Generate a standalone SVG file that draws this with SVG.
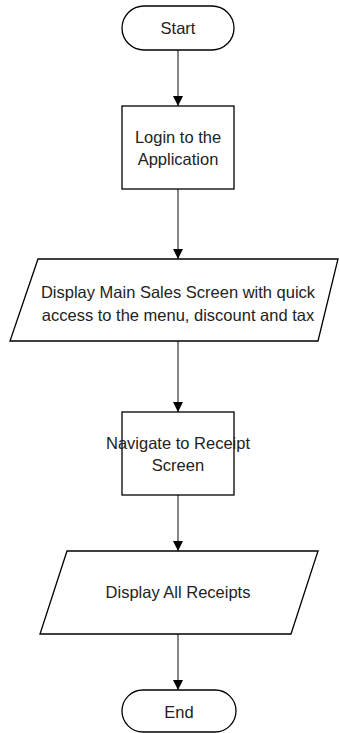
<svg xmlns="http://www.w3.org/2000/svg" width="339" height="733" viewBox="0 0 339 733">
<defs>
<style>
.s{fill:#fff;stroke:#000;stroke-width:1.3}
.t{font-family:"Liberation Sans",Arial,sans-serif;font-size:16.5px;fill:#222;text-anchor:middle}
.c{stroke:#333;stroke-width:1.2;fill:none;marker-end:url(#a)}
</style>
<marker id="a" viewBox="0 0 10 10" refX="10" refY="5" markerWidth="10" markerHeight="10" markerUnits="userSpaceOnUse" orient="auto">
<path d="M0,0 L10,5 L0,10 Z" fill="#000"/>
</marker>
</defs>
<rect width="339" height="733" fill="#fff"/>
<g id="connectors">
<line class="c" x1="178" y1="50" x2="178" y2="106"/>
<line class="c" x1="178" y1="189" x2="178" y2="259"/>
<line class="c" x1="178" y1="341" x2="178" y2="412"/>
<line class="c" x1="178" y1="495" x2="178" y2="551"/>
<line class="c" x1="178" y1="634" x2="178" y2="690"/>
</g>
<g id="start">
<rect class="s" x="122" y="6" width="112" height="44" rx="22"/>
<text class="t" x="178" y="34">Start</text>
</g>
<g id="login">
<rect class="s" x="122" y="106" width="112" height="83"/>
<text class="t" x="178" y="143">Login to the</text>
<text class="t" x="178" y="165">Application</text>
</g>
<g id="display-main">
<polygon class="s" points="38,259 338,259 318,341 10,341"/>
<text class="t" x="178" y="298">Display Main Sales Screen with quick</text>
<text class="t" x="178" y="321">access to the menu, discount and tax</text>
</g>
<g id="navigate">
<rect class="s" x="122" y="412" width="112" height="83"/>
<text class="t" x="178" y="449">Navigate to Receipt</text>
<text class="t" x="178" y="471">Screen</text>
</g>
<g id="display-receipts">
<polygon class="s" points="67,551 318,551 291,634 40,634"/>
<text class="t" x="178" y="598">Display All Receipts</text>
</g>
<g id="end">
<rect class="s" x="122" y="690" width="114" height="42" rx="21"/>
<text class="t" x="179" y="718">End</text>
</g>
</svg>
